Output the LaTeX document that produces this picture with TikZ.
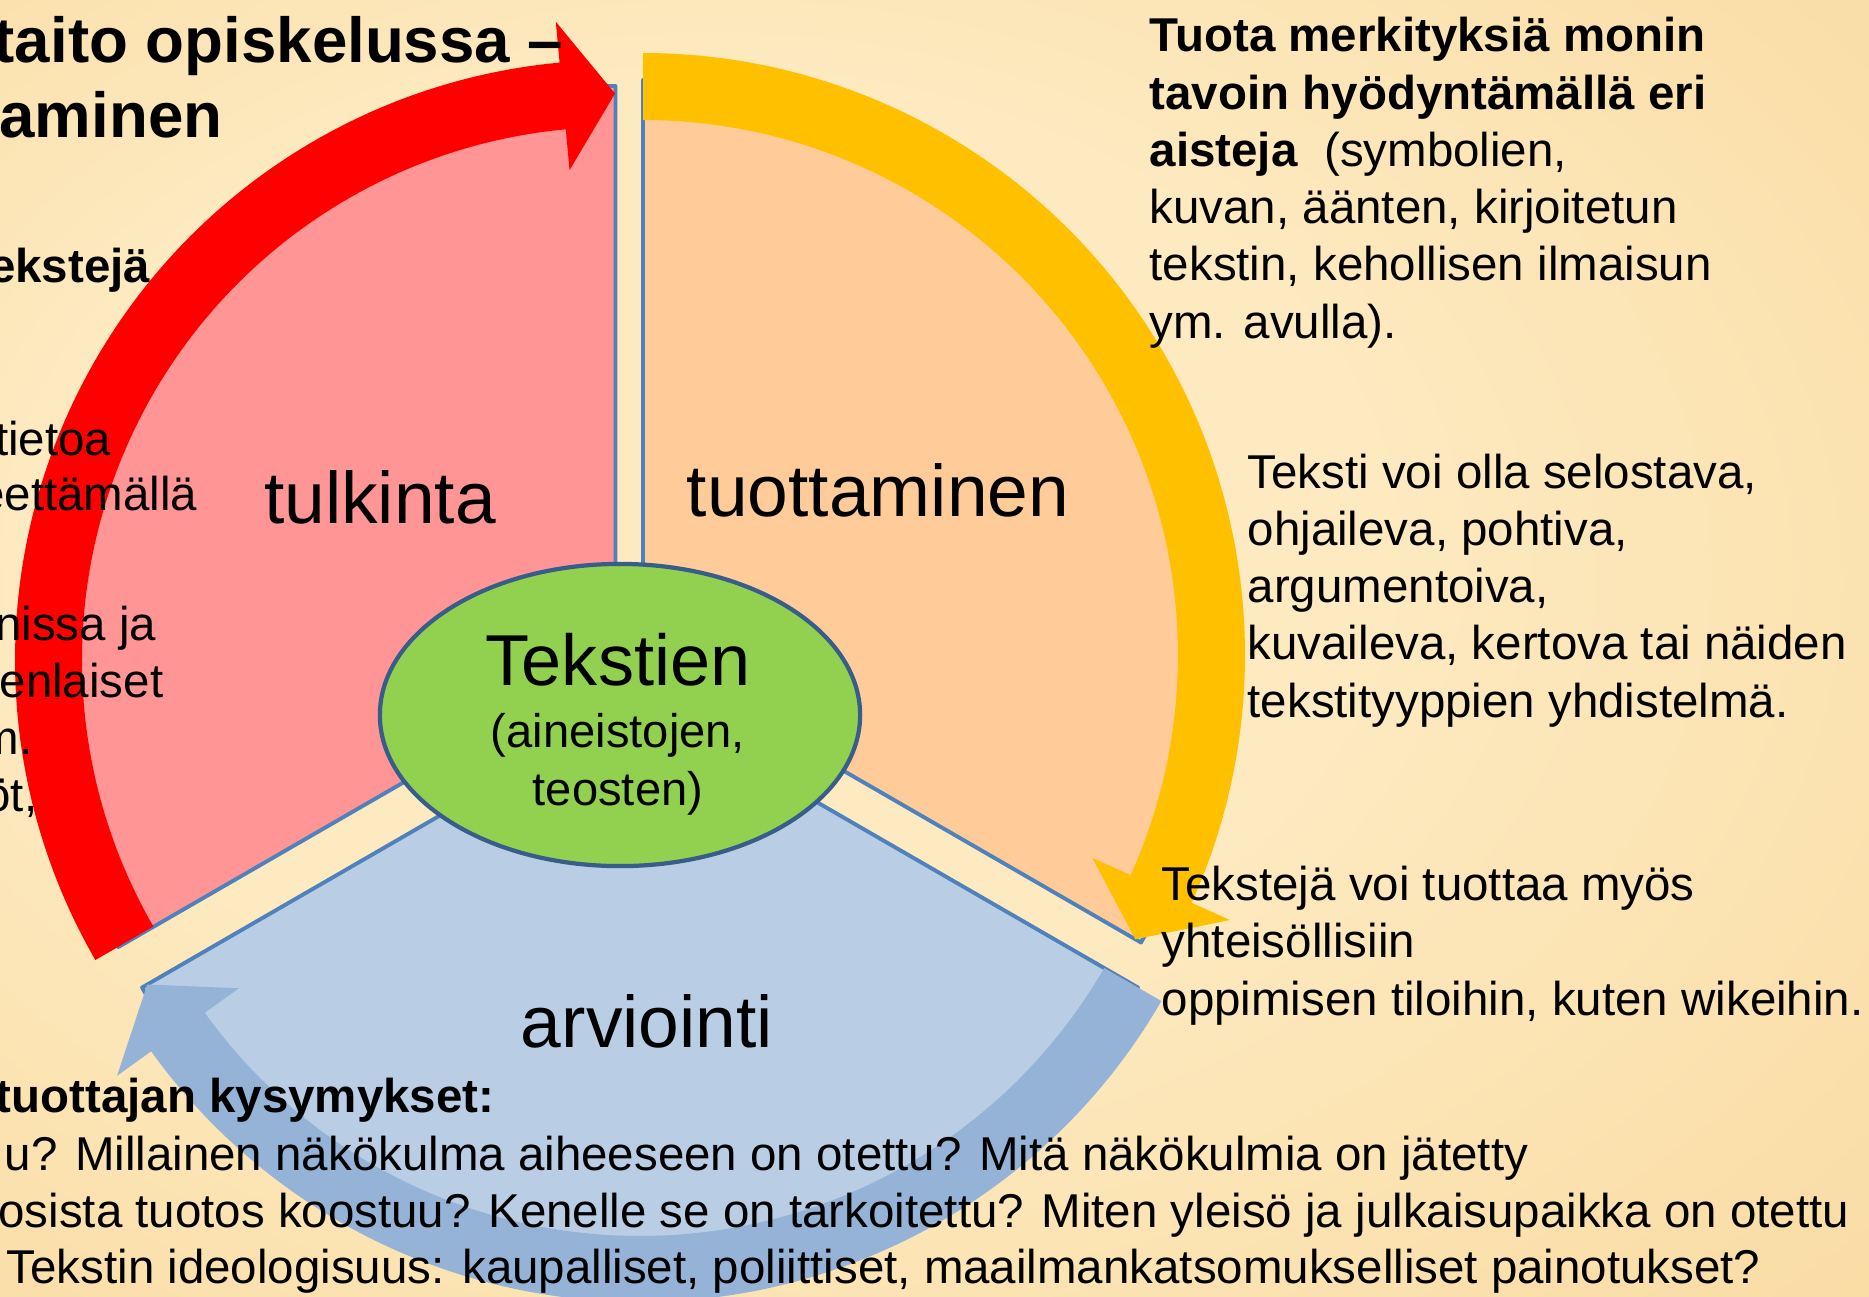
\documentclass[tikz,border=0pt]{standalone}
\usepackage{fontspec}
\setmainfont{Liberation Sans}
\usetikzlibrary{shapes.geometric}

\definecolor{taustavalo}{RGB}{253,234,192}
\definecolor{taustatumma}{RGB}{248,212,148}
\definecolor{pinkki}{RGB}{255,149,149}
\definecolor{persikka}{RGB}{255,204,153}
\definecolor{vaaleansin}{RGB}{185,205,229}
\definecolor{nuolisin}{RGB}{149,179,215}
\definecolor{keltainen}{RGB}{255,192,0}
\definecolor{vihrea}{RGB}{146,208,80}
\definecolor{reuna}{RGB}{79,129,189}
\definecolor{tummareuna}{RGB}{56,93,138}

\pgfdeclareradialshading{tausta}{\pgfpoint{-10bp}{6bp}}{color(0bp)=(taustavalo); color(18bp)=(taustavalo); color(50bp)=(taustatumma)}

\tikzstyle{sektori}=[draw=reuna,line width=1.1pt,line join=round]
\tikzstyle{nimi}=[inner sep=0pt,anchor=base,font=\fontsize{20.8}{25}\selectfont]
\tikzstyle{teksti}=[inner sep=0pt,align=left,font=\fontsize{13.5}{16.27}\selectfont]
\tikzstyle{vasen}=[teksti,anchor=base east]
\tikzstyle{oikea}=[teksti,anchor=base west]
\tikzstyle{otsikko}=[inner sep=0pt,anchor=base east,font=\fontsize{18.1}{21.3}\selectfont\bfseries]

\begin{document}
\begin{tikzpicture}[x=0.01cm,y=0.01cm]

    % Tausta
    \useasboundingbox (0,0) rectangle (1869,-1296);
    \clip (0,0) rectangle (1869,-1296);
    \shade[shading=tausta] (0,0) rectangle (1869,-1296);

    % Sektorit
    \filldraw[sektori,fill=pinkki] (615.5,-660) -- ++(90:574) arc[start angle=90,end angle=210,radius=574] -- cycle;
    \filldraw[sektori,fill=persikka] (643,-655) -- ++(-30:575) arc[start angle=-30,end angle=90,radius=575] -- cycle;
    \filldraw[sektori,fill=vaaleansin] (640,-700) -- ++(210:575) arc[start angle=210,end angle=330,radius=575] -- cycle;

    % Nuolet
    \begin{scope}[shift={(615,-660)}]
      \fill[red] (210:600) arc[start angle=210,end angle=95.3,radius=600] -- (95.3:641) -- (90:566.5) -- (95.3:492) -- (95.3:533) arc[start angle=95.3,end angle=210,radius=533] -- cycle;
    \end{scope}
    \begin{scope}[shift={(643,-655)}]
      \fill[keltainen] (90:602) arc[start angle=90,end angle=-24.3,radius=602] -- (-24.3:644) -- (-30:568.5) -- (-24.3:493) -- (-24.3:535) arc[start angle=-24.3,end angle=90,radius=535] -- cycle;
    \end{scope}
    \begin{scope}[shift={(640,-700)}]
      \fill[nuolisin] (-30:602) arc[start angle=-30,end angle=-144.3,radius=602] -- (-144.3:644) -- (-150:569) -- (-144.3:494) -- (-144.3:536) arc[start angle=-144.3,end angle=-30,radius=536] -- cycle;
    \end{scope}

    % Keskus
    \node[ellipse,draw=tummareuna,line width=1.2pt,fill=vihrea,minimum width=4.80cm,minimum height=3.02cm,inner sep=0pt] (tekstit) at (620,-715) {};
    \node[anchor=base,inner sep=0pt,font=\fontsize{20.5}{24}\selectfont] (tekstitnimi) at (618,-685) {Tekstien};
    \node[anchor=base,align=center,inner sep=0pt,font=\fontsize{13.4}{16.22}\selectfont] (tekstitlisa) at (618,-805) {(aineistojen,\\teosten)};

    % Nimet
    \node[nimi] (tulkinta) at (380,-523) {tulkinta};
    \node[nimi] (tuottaminen) at (878,-516) {tuottaminen};
    \node[nimi] (arviointi) at (647,-1047) {arviointi};

    % Otsikko
    \node[otsikko] (otsikko1) at (564,-62) {taito opiskelussa –};
    \node[otsikko] (otsikko2) at (223,-137) {taminen};

    % Vasen reuna
    \node[vasen] (vasen1) at (151,-282) {\textbf{ekstejä}};
    \node[vasen] (vasen2) at (112,-455) {tietoa};
    \node[vasen] (vasen3) at (198,-510) {eettämällä};
    \node[vasen] (vasen4) at (157,-640) {nissa ja};
    \node[vasen] (vasen5) at (164,-697) {enlaiset};
    \node[vasen] (vasen6) at (33,-754) {m.};
    \node[vasen] (vasen7) at (38,-811) {öt,};

    % Oikea reuna
    \node[oikea] (aistit) at (1149,-338) {\textbf{Tuota merkityksiä monin}\\\textbf{tavoin hyödyntämällä eri}\\\textbf{aisteja}\ \ (symbolien,\\kuvan, äänten, kirjoitetun\\tekstin, kehollisen ilmaisun\\ym. avulla).};
    \node[oikea] (tyypit) at (1247,-717) {Teksti voi olla selostava,\\ohjaileva, pohtiva,\\argumentoiva,\\kuvaileva, kertova tai näiden\\tekstityyppien yhdistelmä.};
    \node[oikea] (wikit) at (1161,-1015) {Tekstejä voi tuottaa myös\\yhteisöllisiin\\oppimisen tiloihin, kuten wikeihin.};

    % Kysymykset
    \node[vasen] (kysymys1) at (495,-1112) {\textbf{tuottajan kysymykset:}};
    \node[vasen] (kysymys2) at (1529,-1170) {u? Millainen näkökulma aiheeseen on otettu? Mitä näkökulmia on jätetty};
    \node[vasen] (kysymys3) at (1850,-1227) {osista tuotos koostuu? Kenelle se on tarkoitettu? Miten yleisö ja julkaisupaikka on otettu};
    \node[oikea] (kysymys4) at (6,-1283) {Tekstin ideologisuus: kaupalliset, poliittiset, maailmankatsomukselliset painotukset?};

\end{tikzpicture}
\end{document}
